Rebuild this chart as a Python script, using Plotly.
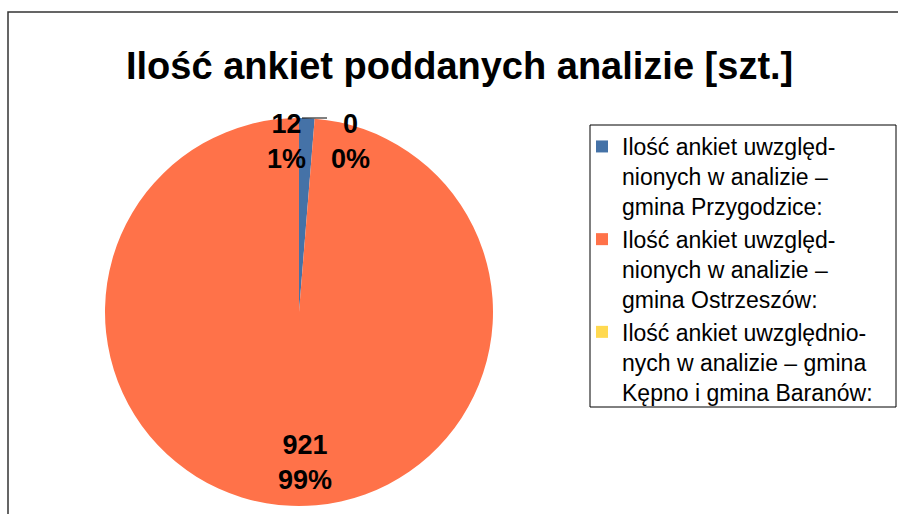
import plotly.graph_objects as go

W, H = 898, 514

title_text = "Ilość ankiet poddanych analizie [szt.]"
legend_labels = [
    "Ilość ankiet uwzględ-<br>nionych w analizie –<br>gmina Przygodzice:",
    "Ilość ankiet uwzględ-<br>nionych w analizie –<br>gmina Ostrzeszów:",
    "Ilość ankiet uwzględnio-<br>nych w analizie – gmina<br>Kępno i gmina Baranów:",
]
values = [12, 921, 0]
colors = ["#4572a7", "#ff7249", "#ffd950"]

total = sum(values)
pcts = [round(v / total * 100) for v in values]


def px(x):
    return x / W


def py(y):
    return 1 - y / H


# pie: centre (299, 312), radius 194 in window pixels
cx, cy, r = 299, 312, 194
fig = go.Figure(
    go.Pie(
        labels=legend_labels,
        values=values,
        sort=False,
        direction="counterclockwise",
        rotation=0,
        textinfo="none",
        hoverinfo="label+value+percent",
        marker=dict(colors=colors, line=dict(width=0)),
        domain=dict(x=[px(cx - r), px(cx + r)], y=[py(cy + r), py(cy - r)]),
        showlegend=True,
    )
)

font_family = "Liberation Sans, Arial, sans-serif"

# data labels (value + percent), positioned like the original (same order as values)
label_pos = [(286, 141), (305, 462), (350, 141)]
annotations = []
for v, p, (lx, ly) in zip(values, pcts, label_pos):
    annotations.append(dict(x=px(lx), y=py(ly), xref="paper", yref="paper",
                            text=f"<b>{v}<br>{p}%</b>", showarrow=False,
                            xanchor="center", yanchor="middle", align="center",
                            font=dict(family=font_family, size=27, color="black")))

annotations.append(dict(x=px(459), y=py(66), xref="paper", yref="paper",
                        text=f"<b>{title_text}</b>", showarrow=False, xanchor="center", yanchor="middle",
                        font=dict(family=font_family, size=38, color="black")))

shapes = [
    # outer chart frame (cut at right and bottom)
    dict(type="rect", xref="paper", yref="paper", x0=px(8), x1=px(930), y0=py(560), y1=py(12),
         line=dict(color="#333333", width=1.5), fillcolor="rgba(0,0,0,0)", layer="below"),
    # legend frame
    dict(type="rect", xref="paper", yref="paper", x0=px(590), x1=px(896), y0=py(407), y1=py(125),
         line=dict(color="black", width=1), fillcolor="white", layer="below"),
    # leader line for the zero slice
    dict(type="line", xref="paper", yref="paper", x0=px(302), x1=px(327), y0=py(118), y1=py(118),
         line=dict(color="black", width=1)),
]

fig.update_layout(
    width=W,
    height=H,
    margin=dict(l=0, r=0, t=0, b=0),
    paper_bgcolor="white",
    plot_bgcolor="white",
    font=dict(family=font_family, color="black"),
    annotations=annotations,
    shapes=shapes,
    legend=dict(
        x=px(582), y=py(125), xanchor="left", yanchor="top",
        bgcolor="rgba(0,0,0,0)", borderwidth=0,
        font=dict(family=font_family, size=23, color="black"),
        valign="top", tracegroupgap=0, itemwidth=30,
    ),
)

fig.write_html(
    "out.html",
    config={"displayModeBar": False},
    post_script="document.body.style.margin='0';document.body.style.overflow='hidden';",
)
